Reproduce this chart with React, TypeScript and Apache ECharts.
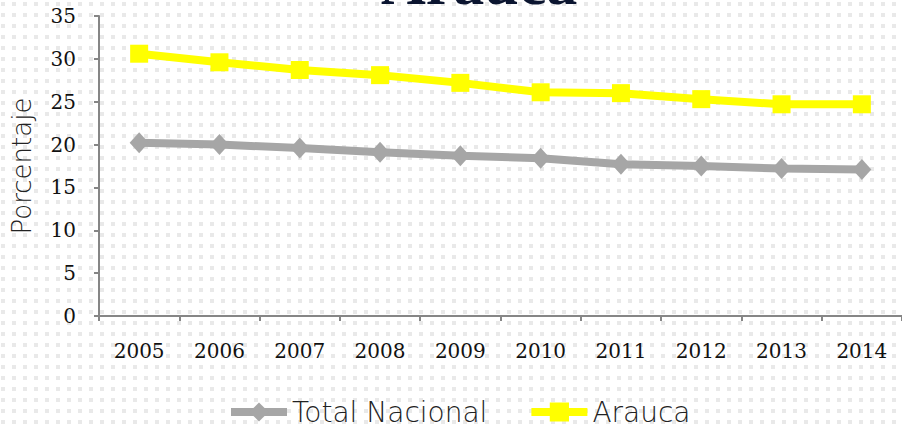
import React, { useEffect, useRef } from "react";
import * as echarts from "echarts";

const years = ["2005", "2006", "2007", "2008", "2009", "2010", "2011", "2012", "2013", "2014"];
const totalNacional = [20.2, 20.0, 19.6, 19.1, 18.7, 18.4, 17.7, 17.5, 17.2, 17.1];
const arauca = [30.6, 29.6, 28.7, 28.1, 27.2, 26.1, 26.0, 25.3, 24.7, 24.7];
const titleText = "Arauca";
const yAxisName = "Porcentaje";

const dotTile =
  "data:image/svg+xml," +
  encodeURIComponent(
    '<svg xmlns="http://www.w3.org/2000/svg" width="11" height="11"><rect x="1" y="2" width="4" height="4" fill="#e9e9e9"/></svg>'
  );

export default function App() {
  const ref = useRef<HTMLDivElement>(null);
  useEffect(() => {
    document.body.style.margin = "0";
    if (!ref.current) return;
    const chart = echarts.init(ref.current, null, { renderer: "svg" });
    chart.setOption({
      animation: false,
      title: {
        text: titleText,
        left: 376,
        top: -53,
        textStyle: {
          fontFamily: "Liberation Serif",
          fontWeight: "bold",
          fontSize: 62,
          color: "#0b1530",
        },
      },
      grid: { left: 99, right: -4, top: 16, bottom: 110 },
      legend: {
        left: 222,
        top: 393,
        itemWidth: 56,
        itemHeight: 24,
        itemGap: 40,
        lineStyle: { width: 8 },
        textStyle: { fontFamily: "DejaVu Sans", fontSize: 28, fontWeight: 200, color: "#222" },
        data: ["Total Nacional", "Arauca"],
      },
      xAxis: {
        type: "category",
        data: years,
        boundaryGap: true,
        axisLine: { lineStyle: { color: "#868686", width: 2 } },
        axisTick: { show: true, length: 5, lineStyle: { color: "#868686", width: 2 } },
        axisLabel: { margin: 25, fontFamily: "DejaVu Serif", fontSize: 20, color: "#111" },
      },
      yAxis: {
        type: "value",
        min: 0,
        max: 35,
        interval: 5,
        name: yAxisName,
        nameLocation: "middle",
        nameGap: 64,
        nameTextStyle: { fontFamily: "DejaVu Sans", fontSize: 26, fontWeight: 200, color: "#222" },
        axisLine: { show: true, lineStyle: { color: "#868686", width: 2 } },
        axisTick: { show: true, length: 5, lineStyle: { color: "#868686", width: 2 } },
        splitLine: { show: false },
        axisLabel: { margin: 23, fontFamily: "DejaVu Serif", fontSize: 20, color: "#111" },
      },
      series: [
        {
          name: "Total Nacional",
          type: "line",
          data: totalNacional,
          symbol: "diamond",
          symbolSize: [19, 21],
          lineStyle: { color: "#a6a6a6", width: 8 },
          itemStyle: { color: "#a6a6a6" },
        },
        {
          name: "Arauca",
          type: "line",
          data: arauca,
          symbol: "rect",
          symbolSize: 18,
          lineStyle: { color: "#ffff00", width: 8 },
          itemStyle: { color: "#ffff00" },
        },
      ],
    });
    return () => chart.dispose();
  }, []);
  return (
    <div
      ref={ref}
      style={{
        width: 902,
        height: 426,
        backgroundColor: "#fff",
        backgroundImage: `url("${dotTile}")`,
        backgroundRepeat: "repeat",
      }}
    />
  );
}
